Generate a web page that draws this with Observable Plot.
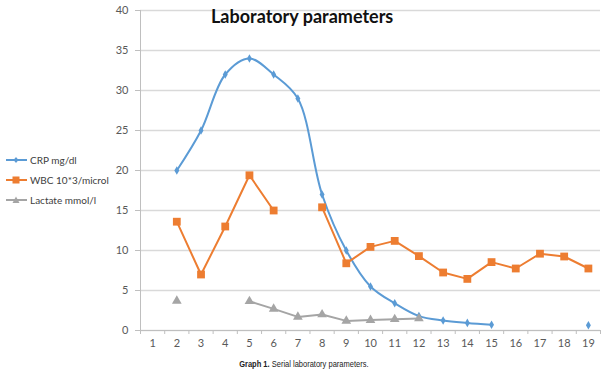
<!DOCTYPE html>
<html><head><meta charset="utf-8">
<script src="https://cdn.jsdelivr.net/npm/d3@7"></script>
<script src="https://cdn.jsdelivr.net/npm/@observablehq/plot@0.6"></script>
<style>
body{margin:0;background:#fff;font-family:Lato,sans-serif}
#wrap{position:relative;width:608px;height:371px;overflow:hidden}
#title{position:absolute;left:211px;top:5px;font:bold 18px Lato,sans-serif;color:#111;white-space:nowrap}
#legend{position:absolute;left:5px;top:150px;font:10px Lato,sans-serif;color:#404040}
#legend div{height:20px;display:flex;align-items:center;white-space:nowrap}
#legend svg{margin-right:2px}
#caption{position:absolute;left:0;width:608px;top:358px;height:12px;text-align:center;color:#222;font:9.5px/12px "Liberation Sans",Arial,sans-serif}
#caption span{display:inline-block;vertical-align:top;transform:scaleX(0.79);transform-origin:center;white-space:nowrap}
</style>
</head><body><div id="wrap"><div id="chart"></div><div id="title">Laboratory parameters</div><div id="legend"></div><div id="caption"><span><b>Graph 1.</b> Serial laboratory parameters.</span></div></div>
<script>
const days = [1,2,3,4,5,6,7,8,9,10,11,12,13,14,15,16,17,18,19];
const crp = [null,20,25,32,34,32,29,17,10,5.5,3.4,1.8,1.25,0.95,0.72,null,null,null,0.65];
const wbc = [null,13.6,7.0,13.0,19.4,15.0,null,15.4,8.4,10.45,11.2,9.3,7.25,6.45,8.55,7.75,9.6,9.25,7.75];
const lactate = [null,3.7,null,null,3.65,2.7,1.7,2.0,1.2,1.3,1.4,1.5,null,null,null,null,null,null,null];
const yTicks = [0,5,10,15,20,25,30,35,40];
const xBounds = [0.5,1.5,2.5,3.5,4.5,5.5,6.5,7.5,8.5,9.5,10.5,11.5,12.5,13.5,14.5,15.5,16.5,17.5,18.5,19.5];
const series = [
  {name:"CRP mg/dl", key:"crp", color:"#5B9BD5", symbol:"diamond", r:2.6, curve:"catmull-rom"},
  {name:"WBC 10*3/microl", key:"wbc", color:"#ED7D31", symbol:"square", r:4.4, curve:"linear"},
  {name:"Lactate mmol/l", key:"lac", color:"#A5A5A5", symbol:"triangle", r:3.6, curve:"linear"}
];
const rows = days.map((d,i)=>({day:d, crp:crp[i], wbc:wbc[i], lac:lactate[i]}));

const marks = [
  Plot.gridY(yTicks,{stroke:"#d9d9d9", strokeOpacity:1, strokeWidth:1.5}),
  Plot.ruleX([0.5],{stroke:"#bfbfbf", strokeWidth:1}),
  Plot.ruleY([0],{stroke:"#bfbfbf", strokeWidth:1.2}),
  Plot.axisY(yTicks,{tickSize:5, tickPadding:7, stroke:"#bfbfbf", fill:"#595959", fontSize:11, label:null}),
  Plot.axisX(xBounds,{tickSize:4, stroke:"#bfbfbf", tickFormat:()=>"", label:null}),
  Plot.axisX(days,{tickSize:0, tickPadding:9, fill:"#595959", fontSize:11, label:null})
];
for (const s of series) {
  marks.push(Plot.line(rows,{x:"day", y:s.key, stroke:s.color, strokeWidth:2, curve:s.curve}));
  marks.push(Plot.dot(rows,{x:"day", y:s.key, symbol:s.symbol, fill:s.color, stroke:"none", r:s.r}));
}
const chart = Plot.plot({
  width:608, height:355, marginLeft:140, marginRight:8, marginTop:10, marginBottom:25,
  style:{fontFamily:"Lato, sans-serif", fontSize:"11px", color:"#595959", background:"transparent"},
  x:{domain:[0.5,19.5], axis:null, label:null},
  y:{domain:[0,40], axis:null, label:null},
  marks
});
document.getElementById("chart").appendChild(chart);

const leg = document.getElementById("legend");
const sym = {diamond:'<path d="M11,2 L13.5,5 L11,8 L8.5,5Z"/>', square:'<rect x="7.5" y="1.5" width="7" height="7"/>', triangle:'<path d="M11,1.5 L14.5,8 L7.5,8Z"/>'};
for (const s of series) {
  const d = document.createElement("div");
  d.innerHTML = `<svg width="23" height="10"><line x1="1" x2="22" y1="5" y2="5" stroke="${s.color}" stroke-width="2"/><g fill="${s.color}">${sym[s.symbol]}</g></svg><span>${s.name}</span>`;
  leg.appendChild(d);
}
</script>
</body></html>
